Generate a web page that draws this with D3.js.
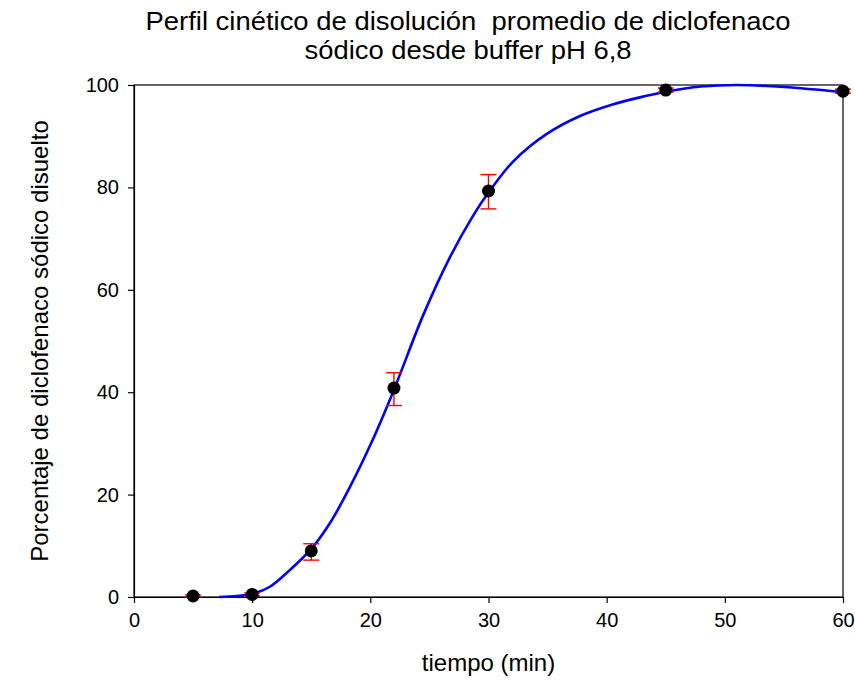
<!DOCTYPE html>
<html>
<head>
<meta charset="utf-8">
<script src="https://cdn.jsdelivr.net/npm/d3@7"></script>
<style>
	body { margin: 0; background: #fff; }
	text { font-family: Arial, "Liberation Sans", sans-serif; fill: #000; }
</style>
</head>
<body>
<script>
const width = 855,
	height = 683,
	margin = { top: 85, right: 12, bottom: 86, left: 134 };

// measured points (tiempo, % disuelto) with error bar ends
const tiempo = [5, 10, 15, 22, 30, 45, 60];
const promedio = [0.2, 0.5, 9.0, 40.8, 79.3, 99.0, 98.8];
const errLow = [0.0, 0.2, 7.2, 37.4, 75.8, 98.6, 98.4];
const errHigh = [0.4, 0.8, 10.4, 43.8, 82.5, 99.4, 99.2];

// fitted curve
const curveX = [7.2, 10, 11.5, 13.2, 15, 16.6, 18.3, 20.2, 22, 24.5, 26.7, 28.7, 30, 32.1, 34.9, 37.7, 40.5, 43.4, 45, 48, 51, 55, 60];
const curveY = [0, 0.6, 2.0, 5.3, 9.4, 14.5, 21.6, 30.7, 40.5, 55.2, 66.2, 74.5, 79, 85.1, 90.4, 93.9, 96.2, 97.9, 98.7, 99.7, 100, 99.6, 98.6];

const xTicks = [0, 10, 20, 30, 40, 50, 60];
const yTicks = [0, 20, 40, 60, 80, 100];

let svg = d3.select('body').append('svg')
	.attr('width', width)
	.attr('height', height);

let x = d3.scaleLinear().domain([0, 60]).range([margin.left, width - margin.right]);
let y = d3.scaleLinear().domain([0, 100]).range([height - margin.bottom, margin.top]);

// frame
svg.append('rect')
	.attr('x', x(0)).attr('y', y(100))
	.attr('width', x(60) - x(0)).attr('height', y(0) - y(100))
	.attr('fill', 'none').attr('stroke', '#000').attr('stroke-width', 1.2);

let xAxis = svg.append('g')
	.attr('transform', 'translate(0,' + y(0) + ')')
	.call(d3.axisBottom(x).tickValues(xTicks).tickSize(6).tickPadding(10).tickSizeOuter(0));
let yAxis = svg.append('g')
	.attr('transform', 'translate(' + x(0) + ',0)')
	.call(d3.axisLeft(y).tickValues(yTicks).tickSize(6).tickPadding(9).tickSizeOuter(0));

[xAxis, yAxis].forEach(a => {
	a.select('.domain').attr('stroke-width', 1.2);
	a.selectAll('.tick line').attr('stroke-width', 1.2);
	a.selectAll('.tick text').attr('font-size', '20px').attr('font-family', 'Arial, "Liberation Sans", sans-serif');
});

// fitted line
let line = d3.line()
	.x((d, i) => x(curveX[i]))
	.y(d => y(d))
	.curve(d3.curveCatmullRom.alpha(0.5));

svg.append('path')
	.datum(curveY)
	.attr('d', line)
	.attr('fill', 'none')
	.attr('stroke', '#0000ff')
	.attr('stroke-width', 2.6);

// error bars
let eb = svg.append('g').attr('stroke', '#ff0000').attr('stroke-width', 1.4);
tiempo.forEach((t, i) => {
	eb.append('line')
		.attr('x1', x(t)).attr('x2', x(t))
		.attr('y1', y(errLow[i])).attr('y2', y(errHigh[i]));
	[errLow[i], errHigh[i]].forEach(v => {
		eb.append('line')
			.attr('x1', x(t) - 8).attr('x2', x(t) + 8)
			.attr('y1', y(v)).attr('y2', y(v));
	});
});

// points
svg.append('g').selectAll('circle')
	.data(tiempo)
	.join('circle')
	.attr('cx', d => x(d))
	.attr('cy', (d, i) => y(promedio[i]))
	.attr('r', 6.5)
	.attr('fill', '#000');

// titles
svg.append('text')
	.attr('x', 468).attr('y', 30)
	.attr('text-anchor', 'middle').attr('font-size', '26px')
	.attr('textLength', 645).attr('lengthAdjust', 'spacingAndGlyphs')
	.attr('xml:space', 'preserve')
	.text('Perfil cinético de disolución  promedio de diclofenaco');
svg.append('text')
	.attr('x', 468).attr('y', 59)
	.attr('text-anchor', 'middle').attr('font-size', '26px')
	.attr('textLength', 327).attr('lengthAdjust', 'spacingAndGlyphs')
	.text('sódico desde buffer pH 6,8');

svg.append('text')
	.attr('x', (x(0) + x(60)) / 2).attr('y', 671)
	.attr('text-anchor', 'middle').attr('font-size', '24px')
	.text('tiempo (min)');

svg.append('text')
	.attr('transform', 'translate(48,' + (y(0) + y(100)) / 2 + ') rotate(-90)')
	.attr('text-anchor', 'middle').attr('font-size', '24px')
	.text('Porcentaje de diclofenaco sódico disuelto');
</script>
</body>
</html>
